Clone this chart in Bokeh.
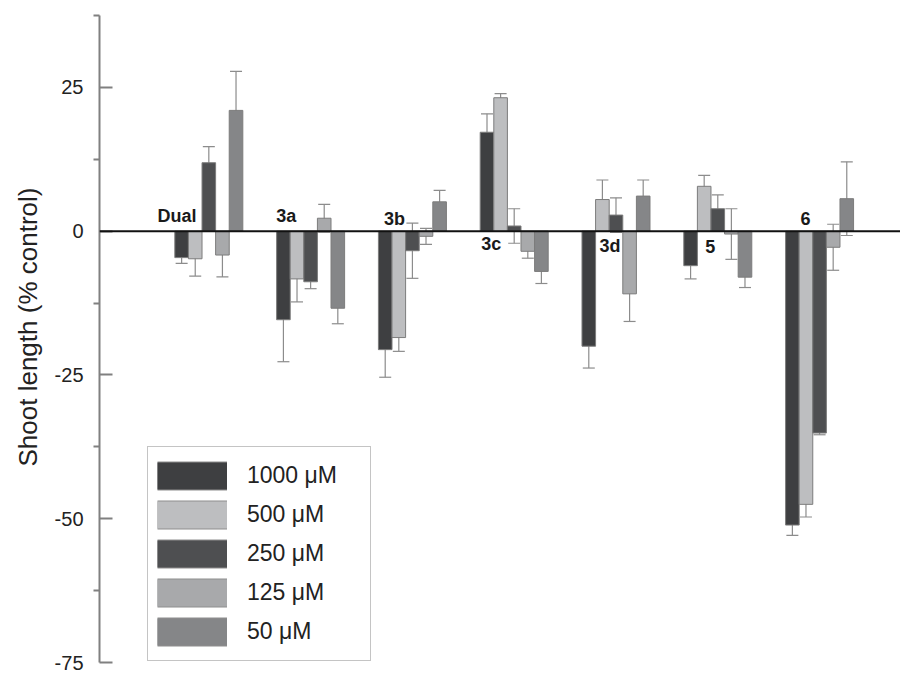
import numpy as np
from bokeh.plotting import figure
from bokeh.models import (ColumnDataSource, Whisker, TeeHead, Span, Legend,
                          LegendItem, Title, FixedTicker, Range1d)
from bokeh.core.properties import value
from bokeh.embed import file_html
from bokeh.resources import INLINE

# ---------------- data ----------------
groups = ["Dual", "3a", "3b", "3c", "3d", "5", "6"]
series = ["1000 \u03bcM", "500 \u03bcM", "250 \u03bcM", "125 \u03bcM", "50 \u03bcM"]

v1000 = [-4.6, -15.4, -20.6, 17.2, -20.0, -6.0, -51.1]
e1000 = [1.0, 7.3, 4.8, 3.2, 3.8, 2.3, 1.8]
v500 = [-4.8, -8.3, -18.5, 23.2, 5.5, 7.8, -47.5]
e500 = [3.0, 4.0, 2.4, 0.7, 3.4, 1.9, 2.2]
v250 = [11.9, -8.8, -3.4, 0.9, 2.8, 3.9, -35.1]
e250 = [2.8, 1.2, 4.8, 3.0, 3.0, 2.4, 0.3]
v125 = [-4.15, 2.25, -0.9, -3.5, -10.9, -0.5, -2.8]
e125 = [3.8, 2.4, 1.4, 1.2, 4.8, 4.4, 4.0]
v50 = [21.0, -13.4, 5.1, -7.0, 6.1, -8.0, 5.65]
e50 = [6.8, 2.7, 2.0, 2.1, 2.8, 1.8, 6.4]

values = [v1000, v500, v250, v125, v50]
errors = [e1000, e500, e250, e125, e50]

# group label anchors (x in group units, y in % control)
label_x = [-0.312, 0.76, 1.825, 2.774, 3.94, 4.925, 5.862]
label_y = [2.65, 2.65, 2.2, -2.25, -2.6, -2.6, 2.2]

y_ticks = [25, 0, -25, -50, -75]
y_minor = [37.5, 12.5, -12.5, -37.5, -62.5]
y_tick_labels = ["25", "0", "-25", "-50", "-75"]

colors = ["#3e3f41", "#bdbec0", "#4e4f51", "#a8a9ab", "#858688"]

# ---------------- figure ----------------
p = figure(width=900, height=673, output_backend="svg", toolbar_location=None,
           x_range=Range1d(-1.074, 6.795), y_range=Range1d(-75, 37.5),
           min_border_left=99, min_border_right=0, min_border_top=15,
           min_border_bottom=11, x_axis_location=None)
p.outline_line_color = None
p.grid.visible = False
p.background_fill_color = "white"

bar_w = 0.1336
xg = np.arange(len(groups))
sources = []
for j, (vals, errs, col) in enumerate(zip(values, errors, colors)):
    xs = xg + (j - 2) * bar_w
    v = np.array(vals)
    e = np.array(errs)
    src = ColumnDataSource(dict(x=xs, top=v, up=v + e, lo=v - e))
    p.vbar(x="x", top="top", bottom=0, width=bar_w, source=src,
           fill_color=col, line_color="#7c7c7c", line_width=1)
    sources.append(src)

for src in sources:
    w = Whisker(source=src, base="x", upper="up", lower="lo",
                line_color="#8c8c8c", line_width=1.2,
                upper_head=TeeHead(size=12, line_color="#8c8c8c", line_width=1.2),
                lower_head=TeeHead(size=12, line_color="#8c8c8c", line_width=1.2))
    p.add_layout(w)

p.add_layout(Span(location=0, dimension="width", line_color="#111111", line_width=2))

lab_src = ColumnDataSource(dict(x=label_x, y=label_y, t=groups))
p.text(x="x", y="y", text="t", source=lab_src, text_font=value("Liberation Sans"),
       text_font_style="bold", text_font_size="18px", text_color="#1a1a1a",
       text_align="center", text_baseline="middle")

# y axis
ax = p.yaxis[0]
ax.ticker = FixedTicker(ticks=y_ticks, minor_ticks=y_minor)
ax.major_label_overrides = {t: s for t, s in zip(y_ticks, y_tick_labels)}
ax.axis_line_color = "#808080"
ax.axis_line_width = 2
ax.major_tick_line_color = "#808080"
ax.major_tick_line_width = 2
ax.minor_tick_line_color = "#808080"
ax.minor_tick_line_width = 2
ax.major_tick_in = 13
ax.major_tick_out = 0
ax.minor_tick_in = 0
ax.minor_tick_out = 6
ax.major_label_standoff = 10
ax.major_label_text_font = "Liberation Sans"
ax.major_label_text_font_size = "20px"
ax.major_label_text_color = "#222222"

p.add_layout(Title(text="Shoot length (% control)", align="left", offset=196,
                   vertical_align="top",
                   text_font="Liberation Sans", text_font_size="26px",
                   text_font_style="normal", text_color="#222222",
                   standoff=14), "left")

# legend: thick line swatches (gray edge + colour fill); the lines hold a
# single NaN point so nothing is drawn in the plot area
nan = float("nan")
items = []
for s, col in zip(series, colors):
    edge = p.line(x=[nan], y=[nan], line_color="#8e8e8e", line_width=29, line_cap="butt")
    fill = p.line(x=[nan], y=[nan], line_color=col, line_width=27, line_cap="butt")
    items.append(LegendItem(label=s, renderers=[edge, fill]))

legend = Legend(items=items, location=(48, 1), glyph_width=70, glyph_height=39,
                label_height=39, spacing=0, padding=9, label_standoff=20,
                label_width=114, label_text_font="Liberation Sans",
                label_text_font_size="23px", label_text_color="#222222",
                border_line_color="#8a8a8a", border_line_width=1.5,
                background_fill_color="white", background_fill_alpha=1.0,
                margin=0)
p.add_layout(legend)

open("out.html", "w").write(file_html(p, INLINE))
